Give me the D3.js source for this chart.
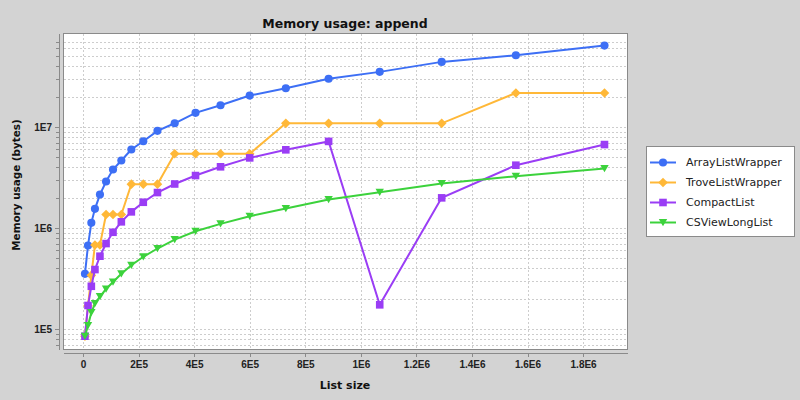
<!DOCTYPE html>
<html>
<head>
	<meta charset="utf-8">
	<title>Memory usage: append</title>
	<script type="text/javascript" src="https://cdn.jsdelivr.net/npm/d3@7"></script>
	<style type="text/css">
		body, html {
			padding: 0;
			margin: 0;
			background: #d3d3d3;
		}
		svg {
			display: block;
			font-family: "DejaVu Sans", sans-serif;
		}
		.axis path, .axis line {
			stroke: #8a8a8a;
			shape-rendering: crispEdges;
		}
		.axis text {
			font-size: 10px;
			font-weight: bold;
			fill: #222;
		}
		.grid line {
			stroke: #cdcdcd;
			stroke-dasharray: 2,2;
			shape-rendering: crispEdges;
		}
		.legend text {
			font-size: 11px;
			fill: #222;
		}
	</style>
</head>
<body>
<svg id="Chart" width="800" height="400"></svg>

<script type="text/javascript">

	// list sizes (x)
	var listSizes = [7000, 18000, 30000, 43000, 61000, 83000, 108000, 138000, 174000, 217000,
		268000, 330000, 405000, 495000, 600000, 730000, 884000, 1068000, 1291000, 1558000, 1877000];

	// memory usage in bytes, one array per series
	var arrayListWrapper = [352000, 671000, 1126000, 1549000, 2146000, 2887000, 3795000, 4660000, 5990000, 7230000,
		9170000, 10900000, 13820000, 16430000, 20500000, 24200000, 30100000, 35200000, 44200000, 51400000, 64100000];
	var troveListWrapper = [85000, 170000, 340000, 680000, 680000, 1360000, 1360000, 1360000, 2720000, 2720000,
		2720000, 5440000, 5440000, 5440000, 5440000, 10880000, 10880000, 10880000, 10880000, 21760000, 21760000];
	var compactList = [84900, 171000, 265000, 388000, 526000, 702000, 908000, 1152000, 1446000, 1800000,
		2246000, 2730000, 3310000, 4040000, 4950000, 5950000, 7210000, 173600, 1990000, 4190000, 6710000];
	var csViewLongList = [84900, 108300, 145700, 178900, 209800, 249000, 292000, 352000, 428000, 519000,
		627000, 769000, 929000, 1100000, 1309000, 1560000, 1915000, 2260000, 2760000, 3260000, 3880000];

	var seriesNames = ["ArrayListWrapper", "TroveListWrapper", "CompactList", "CSViewLongList"];

	var xTicks = [0, 200000, 400000, 600000, 800000, 1000000, 1200000, 1400000, 1600000, 1800000];
	var xTickLabels = ["0", "2E5", "4E5", "6E5", "8E5", "1E6", "1.2E6", "1.4E6", "1.6E6", "1.8E6"];
	var yMajorTicks = [1e5, 1e6, 1e7];
	var yTickLabels = ["1E5", "1E6", "1E7"];

	var COLORS = ["#3d6ff5", "#ffb838", "#9a3df5", "#3cd23c"];
	var SHAPES = ["circle", "diamond", "square", "triangleDown"];

	var plot = {left: 63, top: 33, right: 627, bottom: 349};

	var svg = d3.select("#Chart");

	var x = d3.scaleLinear()
		.domain([-72000, 1958000])
		.range([plot.left, plot.right]);

	var y = d3.scaleLog()
		.domain([63400, 85400000])
		.range([plot.bottom, plot.top]);

	// minor ticks at 2..9 of each decade, skip the ones hugging the top edge
	var yAllTicks = [];
	for (var k = 4; k <= 7; k++) {
		for (var m = 1; m <= 9; m++) {
			var v = m * Math.pow(10, k);
			if (v >= y.domain()[0] && v <= y.domain()[1] && y(v) > plot.top + 5) {
				yAllTicks.push(v);
			}
		}
	}

	function isMajor(v) {
		return yMajorTicks.indexOf(v) !== -1;
	}

	// title
	svg.append("text")
		.attr("x", (plot.left + plot.right) / 2)
		.attr("y", 28)
		.attr("text-anchor", "middle")
		.style("font-size", "12.5px")
		.style("font-weight", "bold")
		.style("fill", "#111")
		.text("Memory usage: append");

	// plot background
	svg.append("rect")
		.attr("x", plot.left + 0.5)
		.attr("y", plot.top + 0.5)
		.attr("width", plot.right - plot.left)
		.attr("height", plot.bottom - plot.top)
		.attr("fill", "white");

	var grid = svg.append("g").attr("class", "grid");

	grid.selectAll("line.h")
		.data(yAllTicks)
		.enter().append("line")
		.attr("class", "h")
		.attr("x1", plot.left + 1)
		.attr("x2", plot.right)
		.attr("y1", function(d) { return Math.round(y(d)) + 0.5; })
		.attr("y2", function(d) { return Math.round(y(d)) + 0.5; });

	grid.selectAll("line.v")
		.data(xTicks)
		.enter().append("line")
		.attr("class", "v")
		.attr("y1", plot.top + 1)
		.attr("y2", plot.bottom)
		.attr("x1", function(d) { return Math.round(x(d)) + 0.5; })
		.attr("x2", function(d) { return Math.round(x(d)) + 0.5; });

	// plot border
	svg.append("rect")
		.attr("x", plot.left + 0.5)
		.attr("y", plot.top + 0.5)
		.attr("width", plot.right - plot.left)
		.attr("height", plot.bottom - plot.top)
		.attr("fill", "none")
		.attr("stroke", "#8a8a8a");

	// axes sit a few pixels off the plot area
	var xAxis = d3.axisBottom(x)
		.tickValues(xTicks)
		.tickFormat(function(d, i) { return xTickLabels[i]; })
		.tickSize(4)
		.tickSizeOuter(0)
		.tickPadding(4);

	svg.append("g")
		.attr("class", "axis")
		.attr("transform", "translate(0," + (plot.bottom + 4) + ")")
		.call(xAxis);

	var yAxis = d3.axisLeft(y)
		.tickValues(yAllTicks)
		.tickFormat(function(d) {
			return isMajor(d) ? yTickLabels[yMajorTicks.indexOf(d)] : "";
		})
		.tickSize(4)
		.tickSizeOuter(0)
		.tickPadding(3);

	var yG = svg.append("g")
		.attr("class", "axis")
		.attr("transform", "translate(" + (plot.left - 4) + ",0)")
		.call(yAxis);

	yG.selectAll(".tick")
		.filter(function(d) { return !isMajor(d); })
		.select("line")
		.attr("x2", -3);

	svg.append("text")
		.attr("x", (plot.left + plot.right) / 2)
		.attr("y", 389)
		.attr("text-anchor", "middle")
		.style("font-size", "11px")
		.style("font-weight", "bold")
		.style("fill", "#111")
		.text("List size");

	svg.append("text")
		.attr("transform", "translate(20," + ((plot.top + plot.bottom) / 2 - 6) + ") rotate(-90)")
		.attr("text-anchor", "middle")
		.style("font-size", "10.4px")
		.style("font-weight", "bold")
		.style("fill", "#111")
		.text("Memory usage (bytes)");

	// marker shapes
	function markerPath(shape) {
		if (shape === "circle") return d3.symbol().type(d3.symbolCircle).size(52)();
		if (shape === "diamond") return "M0,-4.8L4.8,0L0,4.8L-4.8,0Z";
		if (shape === "square") return "M-3.8,-3.8H3.8V3.8H-3.8Z";
		return "M-4.2,-3.5L4.2,-3.5L0,3.7Z";
	}

	var series = [arrayListWrapper, troveListWrapper, compactList, csViewLongList];

	var line = d3.line()
		.x(function(d, i) { return x(listSizes[i]); })
		.y(function(d) { return y(d); });

	for (var s = 0; s < series.length; s++) {
		var g = svg.append("g");

		g.append("path")
			.datum(series[s])
			.attr("d", line)
			.attr("fill", "none")
			.attr("stroke", COLORS[s])
			.attr("stroke-width", 2);

		g.selectAll("path.marker")
			.data(series[s])
			.enter().append("path")
			.attr("class", "marker")
			.attr("d", markerPath(SHAPES[s]))
			.attr("transform", function(d, i) {
				return "translate(" + x(listSizes[i]) + "," + y(d) + ")";
			})
			.attr("fill", COLORS[s]);
	}

	// legend
	var legend = svg.append("g").attr("class", "legend");

	legend.append("rect")
		.attr("x", 646.5)
		.attr("y", 146.5)
		.attr("width", 148)
		.attr("height", 90)
		.attr("fill", "white")
		.attr("stroke", "#8a8a8a");

	var item = legend.selectAll("g.item")
		.data(seriesNames)
		.enter().append("g")
		.attr("class", "item")
		.attr("transform", function(d, i) {
			return "translate(650," + (162.5 + i * 20) + ")";
		});

	item.append("line")
		.attr("x1", 0)
		.attr("x2", 26)
		.attr("stroke", function(d, i) { return COLORS[i]; })
		.attr("stroke-width", 2);

	item.append("path")
		.attr("d", function(d, i) { return markerPath(SHAPES[i]); })
		.attr("transform", "translate(13,0)")
		.attr("fill", function(d, i) { return COLORS[i]; });

	item.append("text")
		.attr("x", 36)
		.attr("dy", ".35em")
		.text(function(d) { return d; });

</script>
</body>
</html>
